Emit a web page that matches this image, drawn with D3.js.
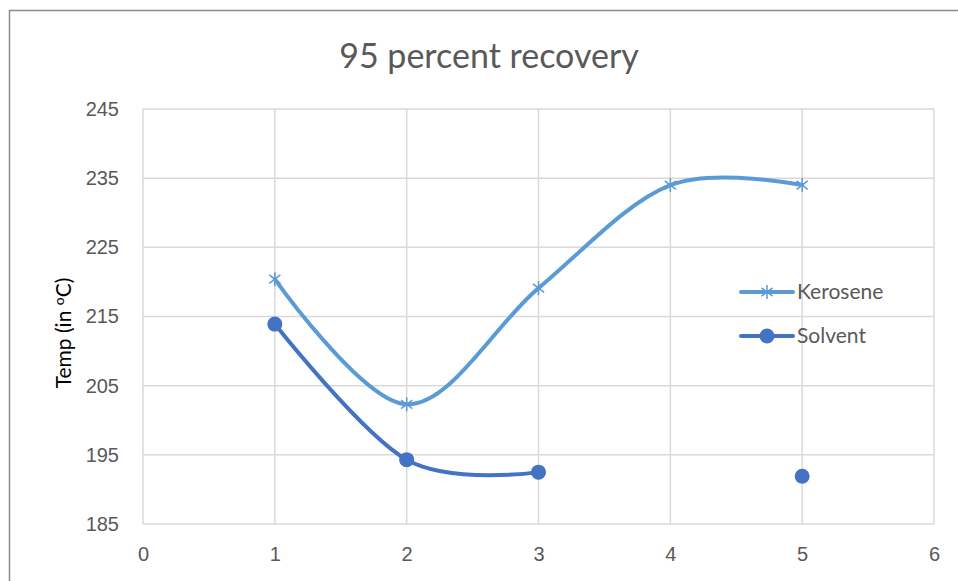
<!DOCTYPE html>
<html>
<head>
<meta charset="utf-8">
<script src="https://cdn.jsdelivr.net/npm/d3@7"></script>
<style>
  html, body { margin: 0; padding: 0; background: #fff; }
  svg { display: block; font-family: Lato, "Open Sans", "Liberation Sans", sans-serif; }
</style>
</head>
<body>
<svg id="chart" width="958" height="581"></svg>
<script>
// Sample runs along the x axis
const runs = [1, 2, 3, 4, 5];
// 95 percent recovery temperatures (°C); null = no measurement
const kerosene = [220.4, 202.3, 219.1, 234.0, 234.0];
const solvent = [213.9, 194.3, 192.5, null, 191.9];
const xTicks = [0, 1, 2, 3, 4, 5, 6];
const yTicks = [185, 195, 205, 215, 225, 235, 245];
const seriesNames = ["Kerosene", "Solvent"];

const svg = d3.select("#chart");
const W = 958, H = 581;

// Outer chart frame (left and top edges visible)
svg.append("path")
  .attr("d", `M9.5,${H} V10.5 H${W}`)
  .attr("fill", "none").attr("stroke", "#8c8c8c").attr("stroke-width", 1.5);

const x = d3.scaleLinear().domain([0, 6]).range([143, 934]);
const y = d3.scaleLinear().domain([185, 245]).range([524, 109]);

const grid = svg.append("g").attr("stroke", "#d9d9d9").attr("stroke-width", 1.5);
grid.selectAll("line.v").data(xTicks).join("line")
  .attr("x1", d => x(d)).attr("x2", d => x(d))
  .attr("y1", y(245)).attr("y2", y(185));
grid.selectAll("line.h").data(yTicks).join("line")
  .attr("x1", x(0)).attr("x2", x(6))
  .attr("y1", d => y(d)).attr("y2", d => y(d));

// Axis tick labels
const xAxis = d3.axisBottom(x).tickValues(xTicks).tickSize(0).tickPadding(23).tickFormat(d3.format("d"));
const gx = svg.append("g").attr("transform", `translate(0,${y(185)})`).call(xAxis);
gx.select(".domain").remove();
gx.selectAll("text").attr("fill", "#595959").style("font-size", "20px");

const yAxis = d3.axisLeft(y).tickValues(yTicks).tickSize(0).tickPadding(24).tickFormat(d3.format("d"));
const gy = svg.append("g").attr("transform", `translate(${x(0)},0)`).call(yAxis);
gy.select(".domain").remove();
gy.selectAll("text").attr("fill", "#595959").style("font-size", "20px");

// Title
svg.append("text").attr("x", 489).attr("y", 68).attr("text-anchor", "middle")
  .attr("fill", "#595959").style("font-size", "34px").text("95 percent recovery");

// Y axis title
const yt = svg.append("text").attr("transform", "translate(71,333) rotate(-90)")
  .attr("text-anchor", "middle").attr("fill", "#000").style("font-size", "21px");
yt.append("tspan").text("Temp (in ");
yt.append("tspan").attr("dy", -7).style("font-size", "14px").text("o");
yt.append("tspan").attr("dy", 7).text("C)");

const colors = ["#5b9bd5", "#4472c4"];
const line = d3.line()
  .defined(d => d.v != null)
  .x(d => x(d.r)).y(d => y(d.v))
  .curve(d3.curveCatmullRom.alpha(0));

const keroData = runs.map((r, i) => ({ r, v: kerosene[i] }));
const solvData = runs.map((r, i) => ({ r, v: solvent[i] }));

svg.append("path").datum(keroData).attr("d", line)
  .attr("fill", "none").attr("stroke", colors[0]).attr("stroke-width", 4).attr("stroke-linecap", "round");
svg.append("path").datum(solvData).attr("d", line)
  .attr("fill", "none").attr("stroke", colors[1]).attr("stroke-width", 4).attr("stroke-linecap", "round");

// Asterisk markers: vertical stroke plus two diagonals
function star(g, cx, cy, r, color) {
  const s = g.append("g").attr("stroke", color).attr("stroke-width", 1.5);
  s.append("line").attr("x1", cx).attr("x2", cx).attr("y1", cy - r).attr("y2", cy + r);
  s.append("line").attr("x1", cx - r * 0.8).attr("x2", cx + r * 0.8).attr("y1", cy - r * 0.6).attr("y2", cy + r * 0.6);
  s.append("line").attr("x1", cx - r * 0.8).attr("x2", cx + r * 0.8).attr("y1", cy + r * 0.6).attr("y2", cy - r * 0.6);
}
const mk = svg.append("g");
keroData.forEach(d => star(mk, x(d.r), y(d.v), 7, colors[0]));
svg.append("g").selectAll("circle").data(solvData.filter(d => d.v != null)).join("circle")
  .attr("cx", d => x(d.r)).attr("cy", d => y(d.v)).attr("r", 7.5).attr("fill", colors[1]);

// Legend
const legend = svg.append("g");
const ly = [292, 336];
seriesNames.forEach((name, i) => {
  legend.append("line").attr("x1", 741).attr("x2", 793).attr("y1", ly[i]).attr("y2", ly[i])
    .attr("stroke", colors[i]).attr("stroke-width", 4).attr("stroke-linecap", "round");
  if (i === 0) star(legend, 767, ly[i], 7, colors[0]);
  else legend.append("circle").attr("cx", 767).attr("cy", ly[i]).attr("r", 7.5).attr("fill", colors[1]);
  legend.append("text").attr("x", 797).attr("y", ly[i] + 7).attr("fill", "#595959")
    .style("font-size", "21px").text(name);
});
</script>
</body>
</html>
